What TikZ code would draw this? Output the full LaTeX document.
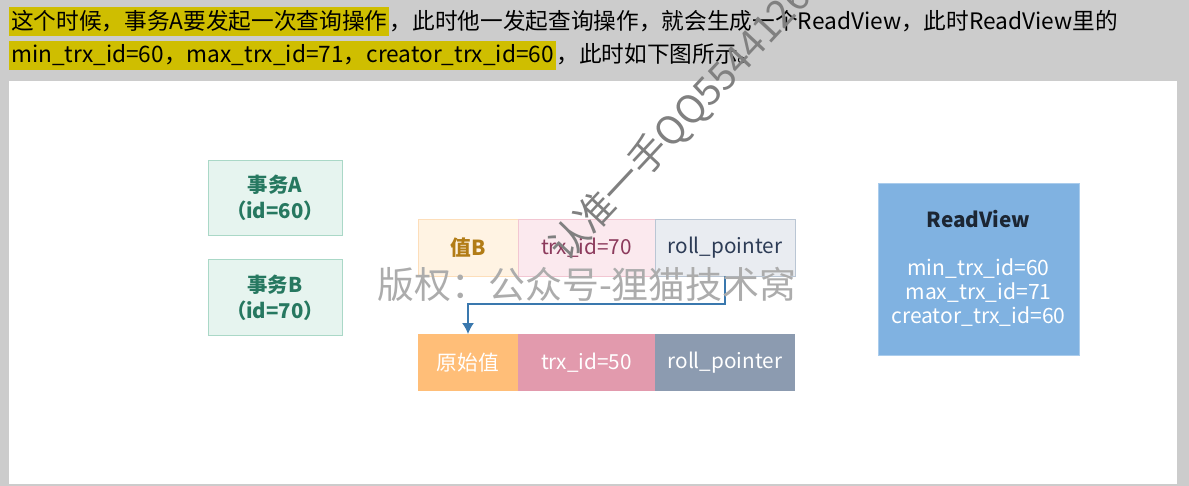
\documentclass[tikz,border=0pt]{standalone}
\usepackage{fontspec}
\setmainfont{Noto Sans CJK SC}
\usetikzlibrary{positioning, arrows.meta}
\definecolor{pagegray}{RGB}{204,204,204}
\definecolor{hlyellow}{RGB}{207,190,0}
\definecolor{txfill}{RGB}{230,244,239}
\definecolor{txline}{RGB}{170,216,199}
\definecolor{txtext}{RGB}{38,120,96}
\definecolor{valfill}{RGB}{255,243,227}
\definecolor{valline}{RGB}{253,222,186}
\definecolor{valtext}{RGB}{178,124,22}
\definecolor{trxfill}{RGB}{251,233,238}
\definecolor{trxline}{RGB}{242,198,210}
\definecolor{trxtext}{RGB}{140,58,92}
\definecolor{rollfill}{RGB}{233,236,241}
\definecolor{rollline}{RGB}{186,198,212}
\definecolor{rolltext}{RGB}{45,60,86}
\definecolor{origfill}{RGB}{255,190,120}
\definecolor{oldtrxfill}{RGB}{226,154,173}
\definecolor{oldrollfill}{RGB}{140,155,176}
\definecolor{rvfill}{RGB}{128,178,225}
\definecolor{rvline}{RGB}{170,204,236}
\definecolor{rvtext}{RGB}{28,38,51}
\definecolor{arrblue}{RGB}{58,120,174}
\definecolor{wmgray}{RGB}{172,172,172}
\tikzset{
  cell/.style={minimum height=1.14cm, outer sep=0pt, inner sep=0pt, font=\fontsize{11.8}{13}\selectfont},
  txbox/.style={draw=txline, fill=txfill, text=txtext, minimum width=2.68cm, minimum height=1.51cm, align=center, font=\fontsize{11.6}{14.8}\selectfont\bfseries},
  hl/.style={fill=hlyellow, inner xsep=1pt, inner ysep=2pt, anchor=base west},
  plain/.style={inner xsep=0pt, inner ysep=2pt, anchor=base west}
}

\begin{document}
\begin{tikzpicture}[x=0.02cm, y=-0.02cm]
\useasboundingbox (0,0) rectangle (1189,486);
\fill[pagegray] (0,0) rectangle (1189,486);
\fill[white] (9,81) rectangle (1177,484);

%heading text
\begin{scope}[font=\fontsize{12.9}{15}\selectfont]
\node[hl] (h1) at (9,30) {这个时候，事务A要发起一次查询操作};
\node[plain] (t1) at (h1.base east) {，此时他一发起查询操作，就会生成一个ReadView，此时ReadView里的};
\node[hl] (h2) at (9,63) {min\_trx\_id=60，max\_trx\_id=71，creator\_trx\_id=60};
\node[plain] (t2) at (h2.base east) {，此时如下图所示。};
\end{scope}

%transactions
\node[txbox] (txa) at (275,198) {事务A\\（id=60）};
\node[txbox] (txb) at (275,297.5) {事务B\\（id=70）};

%row of value B
\node[cell, draw=valline, fill=valfill, text=valtext, minimum width=2cm, font=\fontsize{11.8}{13}\selectfont\bfseries] (valb) at (468,247.5) {值B};
\node[cell, draw=trxline, fill=trxfill, text=trxtext, minimum width=2.74cm, right=0pt of valb] (trx70) {trx\_id=70};
\node[cell, draw=rollline, fill=rollfill, text=rolltext, minimum width=2.8cm, right=0pt of trx70] (roll70) {roll\_pointer};

%row of the original value
\node[cell, fill=origfill, text=white, minimum width=2cm] (orig) at (468,362.5) {原始值};
\node[cell, fill=oldtrxfill, text=white, minimum width=2.74cm, right=0pt of orig] (trx50) {trx\_id=50};
\node[cell, fill=oldrollfill, text=white, minimum width=2.8cm, right=0pt of trx50] (roll50) {roll\_pointer};

%undo chain
\draw[-{Latex[length=2.2mm, width=2.4mm]}, arrblue, line width=0.8] (roll70.south) -- ++(0,28) -| (orig.north);

%read view
\node[draw=rvline, fill=rvfill, minimum width=4.02cm, minimum height=3.44cm] (rv) at (978.5,269) {};
\node[text=rvtext, font=\fontsize{11.8}{13}\selectfont\bfseries] (rvname) at (978.5,219) {ReadView};
\node[text=white, align=center, font=\fontsize{12}{13.7}\selectfont, below=0.37cm of rvname] (rvids) {min\_trx\_id=60\\max\_trx\_id=71\\creator\_trx\_id=60};

%watermarks
\node[text=wmgray, font=\fontsize{21}{24}\selectfont] (wm) at (587,284) {版权：公众号-狸猫技术窝};
\begin{scope}
\clip (0,0) rectangle (1189,486);
\node[text=black!50, anchor=base west, rotate=47, inner sep=0pt, font=\fontsize{22}{24}\selectfont] (qq) at (566,264) {认准一手QQ5544126};
\end{scope}
\end{tikzpicture}
\end{document}
